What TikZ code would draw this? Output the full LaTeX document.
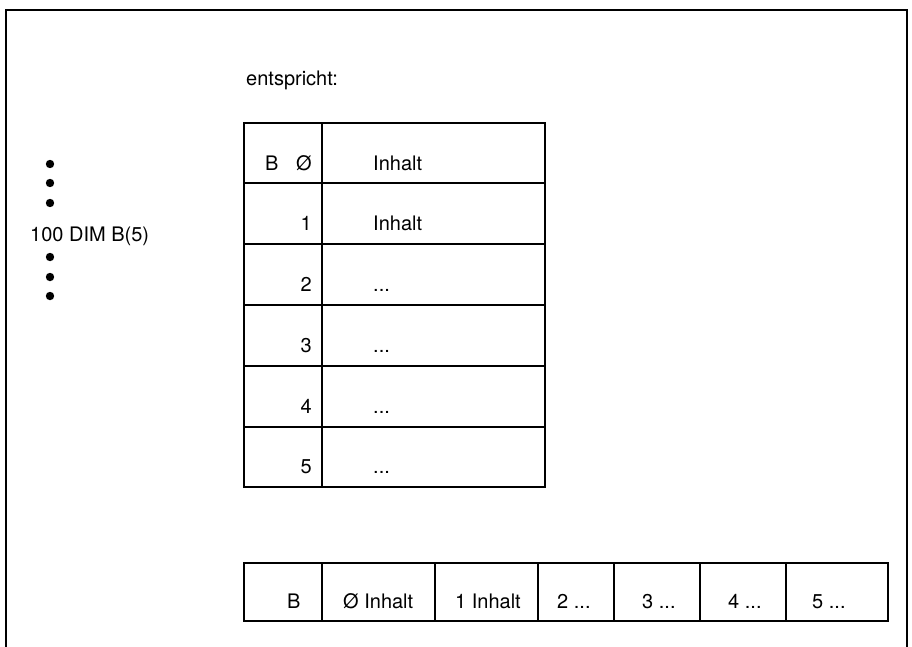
\documentclass[tikz,border=0pt]{standalone}
\usepackage{fontspec}
\setmainfont{TeX Gyre Heros}
\begin{document}
\begin{tikzpicture}[x=1pt,y=-1pt,
  every node/.style={inner sep=0pt, font=\fontsize{20}{24}\selectfont},
  lbl/.style={anchor=base west},
  num/.style={anchor=base east},
  frameline/.style={line width=2.3pt, line join=miter},
  gridline/.style={line width=1.9pt, line join=miter},
  thickline/.style={line width=2.7pt},
  dotmark/.style={fill=black}]
\useasboundingbox (0,0) rectangle (912,646);
% outer frame (open at the bottom)
\draw[frameline] (6,652) -- (6,10) -- (907,10) -- (907,652);

% left program text
\foreach \y in {164,183,203,257,277,296} \fill[dotmark] (50,\y) circle (4.2);
\node[lbl] (dim) at (30,241) {100 DIM B(5)};

% heading
\node[lbl] (ents) at (246,85) {entspricht:};

% vertical table
\draw[gridline] (244,123) rectangle (545,487);
\foreach \y in {183,244,305,366,427} \draw[gridline] (244,\y) -- (545,\y);
\draw[thickline] (322,123) -- (322,487);

\node[lbl] (vB) at (265,170) {B};
\node[num] (v0) at (312,170) {Ø};
\node[lbl] (c0) at (373,170) {Inhalt};
\node[num] (v1) at (312,230) {1};
\node[lbl] (c1) at (373,230) {Inhalt};
\node[num] (v2) at (312,291) {2};
\node[lbl] (c2) at (373,291) {...};
\node[num] (v3) at (312,352) {3};
\node[lbl] (c3) at (373,352) {...};
\node[num] (v4) at (312,413) {4};
\node[lbl] (c4) at (373,413) {...};
\node[num] (v5) at (312,473) {5};
\node[lbl] (c5) at (373,473) {...};

% horizontal row
\draw[gridline] (244,563) rectangle (888,621);
\foreach \x in {322,435,538,614,700,786} \draw[gridline] (\x,563) -- (\x,621);
\node[lbl] (hB) at (287,608) {B};
\node[lbl] (h0) at (343,608) {Ø Inhalt};
\node[lbl] (h1) at (455,608) {1 Inhalt};
\node[lbl] (h2) at (557,608) {2 ...};
\node[lbl] (h3) at (642,608) {3 ...};
\node[lbl] (h4) at (728,608) {4 ...};
\node[lbl] (h5) at (812,608) {5 ...};
\end{tikzpicture}
\end{document}
